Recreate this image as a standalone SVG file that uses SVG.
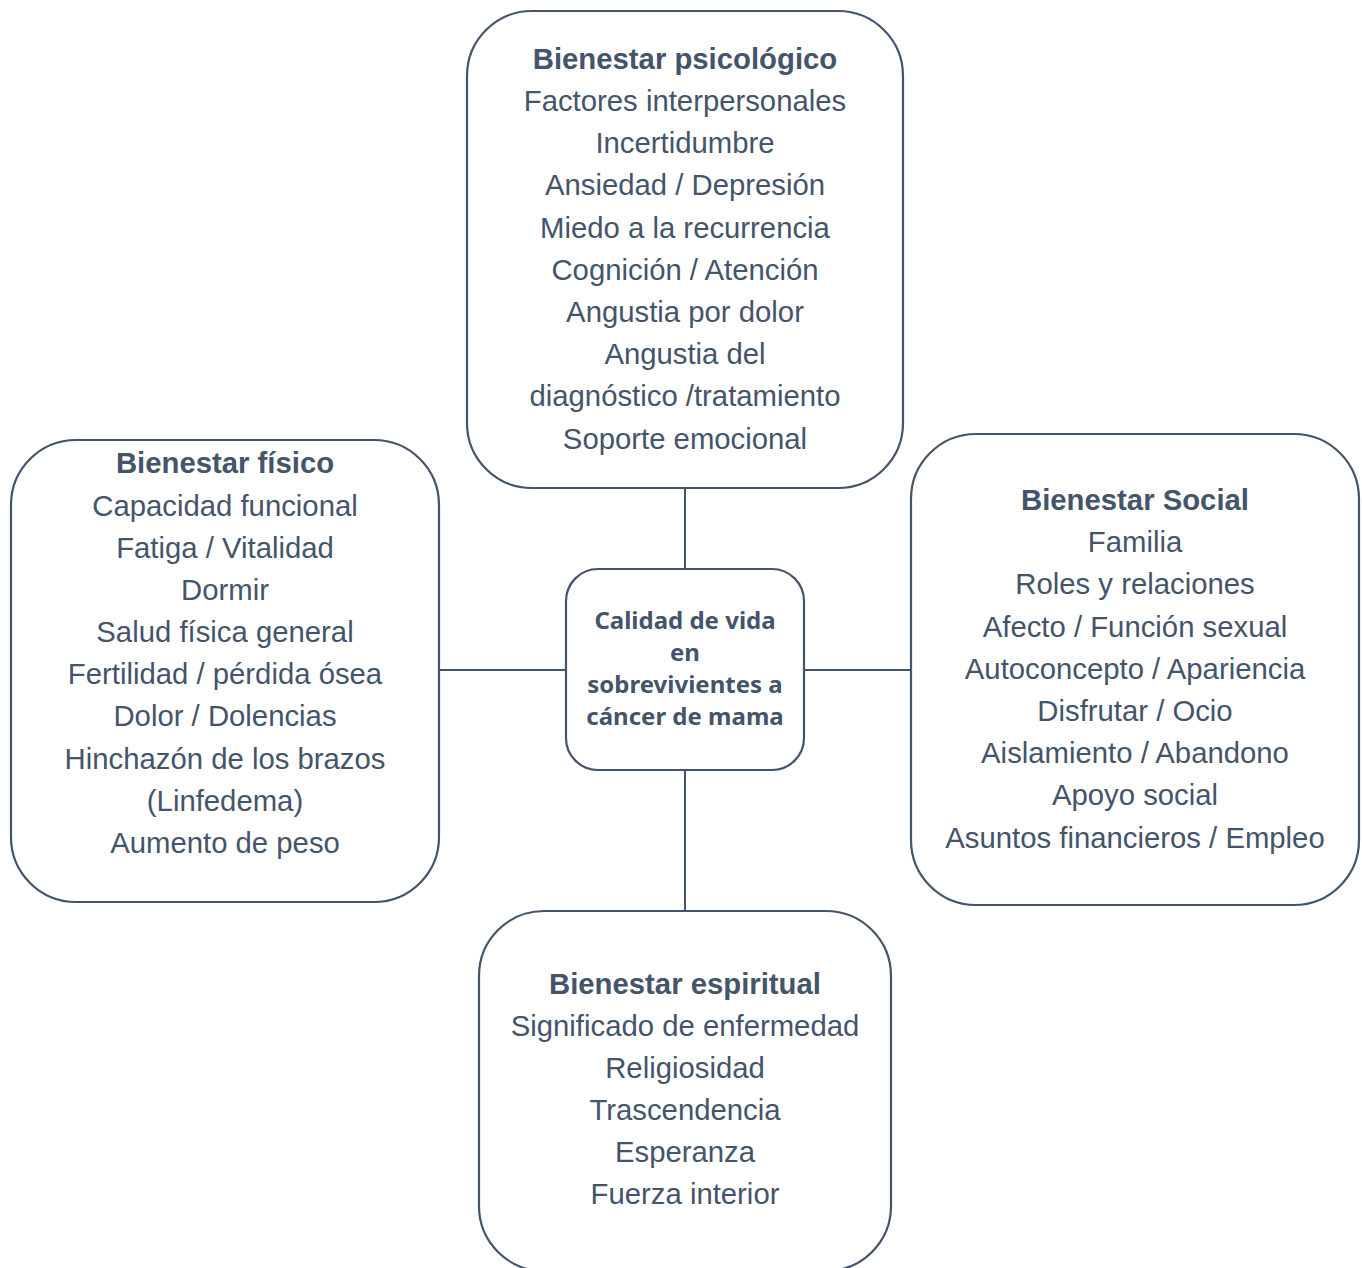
<svg xmlns="http://www.w3.org/2000/svg" width="1362" height="1268" viewBox="0 0 1362 1268">
<style>
.box{fill:#ffffff;stroke:#44546a;stroke-width:2.2}
.t{font-family:"Liberation Sans",Arial,sans-serif;font-size:29.3px;fill:#44546a;text-anchor:middle}
.b{font-weight:bold}
.c{font-family:"Noto Sans","Open Sans",sans-serif;font-size:24px;font-weight:bold;fill:#44546a;text-anchor:middle}
.ln{stroke:#44546a;stroke-width:2;fill:none}
</style>
<rect width="1362" height="1268" fill="#ffffff"/>
<g id="connectors">
<line class="ln" x1="685" y1="488" x2="685" y2="569"/>
<line class="ln" x1="685" y1="770" x2="685" y2="911"/>
<line class="ln" x1="439" y1="670" x2="566" y2="670"/>
<line class="ln" x1="804" y1="670" x2="911" y2="670"/>
</g>
<g id="psicologico">
<rect class="box" x="467" y="11" width="436" height="477" rx="65"/>
<text class="t b" x="685" y="69">Bienestar psicológico</text>
<text class="t" x="685" y="111">Factores interpersonales</text>
<text class="t" x="685" y="153">Incertidumbre</text>
<text class="t" x="685" y="195">Ansiedad / Depresión</text>
<text class="t" x="685" y="238">Miedo a la recurrencia</text>
<text class="t" x="685" y="280">Cognición / Atención</text>
<text class="t" x="685" y="322">Angustia por dolor</text>
<text class="t" x="685" y="364">Angustia del</text>
<text class="t" x="685" y="406">diagnóstico /tratamiento</text>
<text class="t" x="685" y="449">Soporte emocional</text>
</g>
<g id="fisico">
<rect class="box" x="11" y="440" width="428" height="462" rx="65"/>
<text class="t b" x="225" y="473">Bienestar físico</text>
<text class="t" x="225" y="516">Capacidad funcional</text>
<text class="t" x="225" y="558">Fatiga / Vitalidad</text>
<text class="t" x="225" y="600">Dormir</text>
<text class="t" x="225" y="642">Salud física general</text>
<text class="t" x="225" y="684">Fertilidad / pérdida ósea</text>
<text class="t" x="225" y="726">Dolor / Dolencias</text>
<text class="t" x="225" y="769">Hinchazón de los brazos</text>
<text class="t" x="225" y="811">(Linfedema)</text>
<text class="t" x="225" y="853">Aumento de peso</text>
</g>
<g id="social">
<rect class="box" x="911" y="434" width="448" height="471" rx="65"/>
<text class="t b" x="1135" y="510">Bienestar Social</text>
<text class="t" x="1135" y="552">Familia</text>
<text class="t" x="1135" y="594">Roles y relaciones</text>
<text class="t" x="1135" y="637">Afecto / Función sexual</text>
<text class="t" x="1135" y="679">Autoconcepto / Apariencia</text>
<text class="t" x="1135" y="721">Disfrutar / Ocio</text>
<text class="t" x="1135" y="763">Aislamiento / Abandono</text>
<text class="t" x="1135" y="805">Apoyo social</text>
<text class="t" x="1135" y="848">Asuntos financieros / Empleo</text>
</g>
<g id="espiritual">
<rect class="box" x="479" y="911" width="412" height="360" rx="65"/>
<text class="t b" x="685" y="994">Bienestar espiritual</text>
<text class="t" x="685" y="1036">Significado de enfermedad</text>
<text class="t" x="685" y="1078">Religiosidad</text>
<text class="t" x="685" y="1120">Trascendencia</text>
<text class="t" x="685" y="1162">Esperanza</text>
<text class="t" x="685" y="1204">Fuerza interior</text>
</g>
<g id="centro">
<rect class="box" x="566" y="569" width="238" height="201" rx="32"/>
<text class="c" x="685" y="629">Calidad de vida</text>
<text class="c" x="685" y="661">en</text>
<text class="c" x="685" y="693">sobrevivientes a</text>
<text class="c" x="685" y="725">cáncer de mama</text>
</g>
</svg>
